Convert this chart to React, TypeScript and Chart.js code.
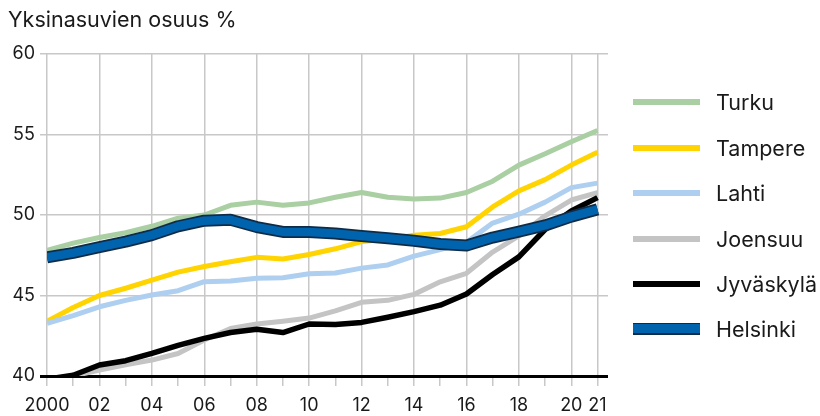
import React, { useEffect, useRef } from "react";
import { Chart, registerables } from "chart.js";

Chart.register(...registerables);

const years = [2000, 2001, 2002, 2003, 2004, 2005, 2006, 2007, 2008, 2009, 2010, 2011, 2012, 2013, 2014, 2015, 2016, 2017, 2018, 2019, 2020, 2021];

const turku = [47.8, 48.25, 48.6, 48.9, 49.3, 49.8, 50.0, 50.6, 50.8, 50.6, 50.75, 51.1, 51.4, 51.1, 51.0, 51.05, 51.4, 52.1, 53.1, 53.8, 54.55, 55.25];
const tampere = [43.4, 44.25, 45.0, 45.45, 45.95, 46.45, 46.8, 47.1, 47.37, 47.27, 47.55, 47.9, 48.35, 48.5, 48.75, 48.85, 49.27, 50.5, 51.5, 52.2, 53.1, 53.9];
const lahti = [43.27, 43.75, 44.3, 44.7, 45.03, 45.3, 45.86, 45.9, 46.07, 46.1, 46.35, 46.4, 46.7, 46.9, 47.45, 47.85, 48.3, 49.5, 50.05, 50.8, 51.7, 51.98];
const joensuu = [39.6, 40.0, 40.37, 40.7, 40.99, 41.4, 42.24, 42.95, 43.23, 43.4, 43.6, 44.05, 44.58, 44.7, 45.07, 45.85, 46.38, 47.7, 48.7, 49.95, 50.93, 51.39];
const jyvaskyla = [39.8, 40.05, 40.68, 40.95, 41.4, 41.9, 42.34, 42.7, 42.9, 42.7, 43.23, 43.2, 43.33, 43.65, 44.0, 44.4, 45.09, 46.3, 47.4, 49.1, 50.25, 51.08];
const helsinki = [47.37, 47.65, 48.0, 48.35, 48.75, 49.3, 49.65, 49.7, 49.25, 48.95, 48.95, 48.85, 48.7, 48.55, 48.4, 48.2, 48.1, 48.6, 48.97, 49.35, 49.9, 50.35];

const yTicks = [40, 45, 50, 55, 60];
const title = "Yksinasuvien osuus %";

const seriesNames = ["Turku", "Tampere", "Lahti", "Joensuu", "Jyväskylä", "Helsinki"];
const seriesColors = ["#a9cfa3", "#ffd400", "#aecff0", "#c4c4c4", "#000000", "#0063ae"];
const helsinkiEdge = "#0f2c47";

const FONT = "Inter, 'Noto Sans', sans-serif";
const GRID = "#c8c8c8";

export default function App() {
  const ref = useRef<HTMLCanvasElement | null>(null);

  useEffect(() => {
    if (!ref.current) return;
    const pts = (arr: number[]) => arr.map((v, i) => ({ x: years[i], y: v }));
    const base = {
      pointRadius: 0,
      tension: 0,
      borderJoinStyle: "round" as const,
      borderCapStyle: "butt" as const,
      clip: 0,
    };
    const chart = new Chart(ref.current, {
      type: "line",
      data: {
        datasets: [
          { ...base, label: "Helsinki", data: pts(helsinki), borderColor: seriesColors[5], borderWidth: 8.5, order: 0 },
          { ...base, label: "Helsinki-edge", data: pts(helsinki), borderColor: helsinkiEdge, borderWidth: 12, order: 1 },
          { ...base, label: "Jyväskylä", data: pts(jyvaskyla), borderColor: seriesColors[4], borderWidth: 5.5, order: 2 },
          { ...base, label: "Joensuu", data: pts(joensuu), borderColor: seriesColors[3], borderWidth: 5, order: 3 },
          { ...base, label: "Lahti", data: pts(lahti), borderColor: seriesColors[2], borderWidth: 5, order: 4 },
          { ...base, label: "Tampere", data: pts(tampere), borderColor: seriesColors[1], borderWidth: 5, order: 5 },
          { ...base, label: "Turku", data: pts(turku), borderColor: seriesColors[0], borderWidth: 5, order: 6 },
        ],
      },
      options: {
        animation: false,
        responsive: false,
        maintainAspectRatio: false,
        layout: { padding: { top: 54, right: 212, bottom: 0, left: 0 } },
        plugins: { legend: { display: false }, tooltip: { enabled: false }, title: { display: false } },
        scales: {
          x: {
            type: "linear",
            min: 2000,
            max: 2021.4,
            afterBuildTicks: (scale: any) => {
              scale.ticks = years.map((y) => ({ value: y }));
            },
            afterFit: (scale: any) => {
              scale.height = 40;
            },
            border: { display: false },
            grid: {
              color: (ctx: any) => {
                const v = ctx.tick ? ctx.tick.value : 0;
                return v % 2 === 0 || v === 2021 ? GRID : "rgba(0,0,0,0)";
              },
              tickColor: GRID,
              lineWidth: 1.5,
              tickLength: 10,
              drawTicks: true,
            },
            ticks: {
              autoSkip: false,
              maxRotation: 0,
              padding: 9,
              color: "#1a1a1a",
              font: { family: FONT, size: 18 },
              callback: (v: any) => {
                const n = Number(v);
                if (n === 2000) return "2000";
                if (n % 2 === 0 || n === 2021) return String(n).slice(2);
                return "";
              },
            },
          },
          y: {
            min: 40,
            max: 60,
            afterBuildTicks: (scale: any) => {
              scale.ticks = yTicks.map((v) => ({ value: v }));
            },
            afterFit: (scale: any) => {
              scale.width = 47;
            },
            border: { display: false },
            grid: {
              color: (ctx: any) => (ctx.tick && ctx.tick.value === 40 ? "#000000" : GRID),
              lineWidth: (ctx: any) => (ctx.tick && ctx.tick.value === 40 ? 3 : 1.5),
              tickLength: 7,
            },
            ticks: {
              padding: 5,
              color: "#1a1a1a",
              font: { family: FONT, size: 18 },
            },
          },
        },
      },
    });
    return () => chart.destroy();
  }, []);

  const rowCenters = [102, 147.5, 193, 239, 284, 329];

  return (
    <div style={{ position: "fixed", left: 0, top: 0, width: 820, height: 416, background: "#fff", fontFamily: FONT, color: "#1a1a1a", overflow: "hidden" }}>
      <canvas ref={ref} width={820} height={416} style={{ position: "absolute", left: 0, top: 0, width: 820, height: 416 }} />
      <div style={{ position: "absolute", left: 8, top: 8.5, fontSize: 21.5, lineHeight: "21px", whiteSpace: "nowrap" }}>{title}</div>
      {seriesNames.map((name, i) => (
        <div key={name} style={{ position: "absolute", left: 633, top: rowCenters[i] - 11, height: 22, display: "flex", alignItems: "center", whiteSpace: "nowrap" }}>
          <div
            style={{
              width: 67,
              height: name === "Helsinki" ? 8.5 : 6,
              background: seriesColors[i],
              borderTop: name === "Helsinki" ? `1.5px solid ${helsinkiEdge}` : "none",
              borderBottom: name === "Helsinki" ? `2.5px solid ${helsinkiEdge}` : "none",
              boxSizing: "content-box",
            }}
          />
          <div style={{ marginLeft: 16, fontSize: 21.5, lineHeight: "22px" }}>{name}</div>
        </div>
      ))}
    </div>
  );
}
